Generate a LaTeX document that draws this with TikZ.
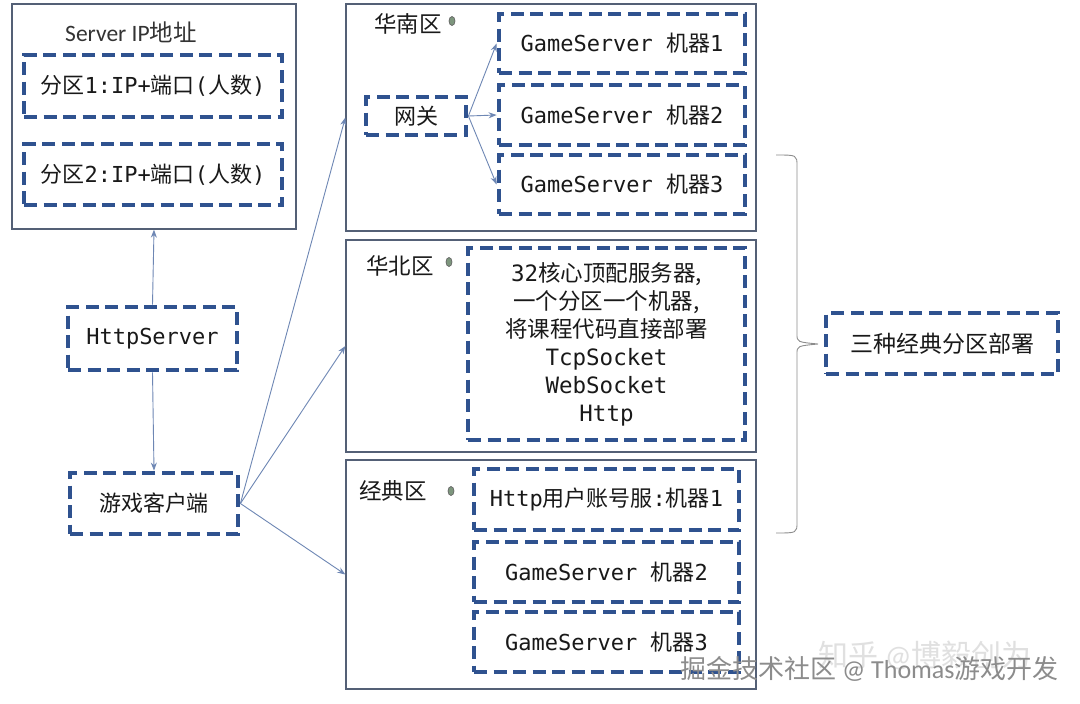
\documentclass[tikz,border=0pt]{standalone}
\usepackage{fontspec}
\setmainfont{Carlito}
\newfontfamily\cjkf{Noto Sans CJK SC}
\newfontfamily\monof{DejaVu Sans Mono}
\usetikzlibrary{arrows.meta,shapes.geometric}
\definecolor{dblue}{RGB}{47,82,143}
\definecolor{framec}{RGB}{84,96,118}
\definecolor{arrc}{RGB}{110,135,180}
\definecolor{dotc}{RGB}{125,150,125}
\definecolor{txtc}{RGB}{25,25,25}
\newcommand\zh[1]{{\cjkf #1}}
\newcommand\mo[1]{{\monof #1}}
\begin{document}
\begin{tikzpicture}[x=1pt,y=-1pt,
  dbox/.style={draw=dblue, line width=4.8pt, dash pattern=on 13pt off 6.5pt, fill=white, inner sep=0pt, text=txtc, font=\fontsize{22}{28}\selectfont},
  rbox/.style={draw=framec, line width=1.3pt, inner sep=0pt},
  conn/.style={draw=arrc, line width=0.9pt, -{Stealth[length=8pt,width=6pt]}},
  lbl/.style={font=\fontsize{22.5}{26}\selectfont\cjkf, inner sep=0pt, text=txtc},
  gdot/.style={ellipse, draw=black!60, fill=dotc, minimum width=6pt, minimum height=9pt, inner sep=0pt, line width=0.7pt}
]
\useasboundingbox[fill=white] (0,0) rectangle (1080,704);

% left: Server IP box
\node[rbox, minimum width=284pt, minimum height=225pt] (sip) at (154,116.5) {};
\node[font=\fontsize{23.5}{26}\selectfont, text=black!80, inner sep=0pt] (siptitle) at (131,32) {Server IP\zh{地址}};
\node[dbox, minimum width=258pt, minimum height=62pt] (ip1) at (153,86) {\zh{分区}\mo{1:IP+}\zh{端口}\mo{(}\zh{人数}\mo{)}};
\node[dbox, minimum width=258pt, minimum height=61pt] (ip2) at (153,174.5) {\zh{分区}\mo{2:IP+}\zh{端口}\mo{(}\zh{人数}\mo{)}};

\node[dbox, minimum width=169pt, minimum height=63pt] (http) at (152.5,338.5) {\mo{HttpServer}};
\node[dbox, minimum width=168pt, minimum height=61pt] (client) at (154,503.5) {\zh{游戏客户端}};

% 华南区
\node[rbox, minimum width=410pt, minimum height=227pt] (hn) at (551,117.5) {};
\node[lbl] (hnlbl) at (408,24) {华南区};
\node[gdot] (hndot) at (452,21) {};
\node[dbox, minimum width=100pt, minimum height=38pt] (wg) at (416,116) {\zh{网关}};
\node[dbox, minimum width=246pt, minimum height=59pt] (gs1) at (622,43.5) {\mo{GameServer }\zh{机器}\mo{1}};
\node[dbox, minimum width=246pt, minimum height=60pt] (gs2) at (622,115) {\mo{GameServer }\zh{机器}\mo{2}};
\node[dbox, minimum width=246pt, minimum height=59pt] (gs3) at (622,184.5) {\mo{GameServer }\zh{机器}\mo{3}};

% 华北区
\node[rbox, minimum width=410pt, minimum height=212pt] (hb) at (551,346) {};
\node[lbl] (hblbl) at (400,266) {华北区};
\node[gdot] (hbdot) at (449,262) {};
\node[dbox, minimum width=277pt, minimum height=192pt, align=center, font=\fontsize{22.5}{28}\selectfont] (hbbox) at (606.5,344)
  {\mo{32}\zh{核心顶配服务器,}\\ \zh{一个分区一个机器,}\\ \zh{将课程代码直接部署}\\ \mo{TcpSocket}\\ \mo{WebSocket}\\ \mo{Http}};

% 经典区
\node[rbox, minimum width=410pt, minimum height=229pt] (jd) at (551,574.5) {};
\node[lbl] (jdlbl) at (393,491) {经典区};
\node[gdot] (jddot) at (451,491) {};
\node[dbox, minimum width=265pt, minimum height=61pt] (jd1) at (606.5,499.5) {\mo{Http}\zh{用户账号服}\mo{:}\zh{机器}\mo{1}};
\node[dbox, minimum width=265pt, minimum height=60pt] (jd2) at (606.5,572) {\mo{GameServer }\zh{机器}\mo{2}};
\node[dbox, minimum width=265pt, minimum height=60pt] (jd3) at (606.5,642) {\mo{GameServer }\zh{机器}\mo{3}};

% summary
\node[dbox, minimum width=232pt, minimum height=61pt, font=\fontsize{23}{28}\selectfont] (sum) at (942,343.5) {\zh{三种经典分区部署}};

% connectors
\draw[conn] (http.north) -- (sip.south);
\draw[conn] (http.south) -- (client.north);
\draw[conn] (client.east) -- (hn.west);
\draw[conn] (client.east) -- (hb.west);
\draw[conn] (client.east) -- (jd.west);
\draw[conn] (wg.east) -- (gs1.west);
\draw[conn] (wg.east) -- (gs2.west);
\draw[conn] (wg.east) -- (gs3.west);

% brace
\coordinate (btop) at (776,155);
\coordinate (btip) at (818,344);
\coordinate (bbot) at (776,533);
\draw[draw=black!45, line width=0.9pt]
  (btop) .. controls (797,155) .. (797,166) -- (797,334)
  .. controls (797,342) .. (btip)
  .. controls (797,346) .. (797,354) -- (797,522)
  .. controls (797,533) .. (bbot);

% watermarks
\node[font=\fontsize{30}{30}\selectfont, text=black!12, inner sep=0pt, anchor=west] (wm2) at (818,655) {\zh{知乎} @\zh{博毅创为}};
\node[font=\fontsize{26}{26}\selectfont, text=black!45, inner sep=0pt, anchor=west] (wm1) at (680,669) {\zh{掘金技术社区} @ Thomas\zh{游戏开发}};
\end{tikzpicture}
\end{document}
